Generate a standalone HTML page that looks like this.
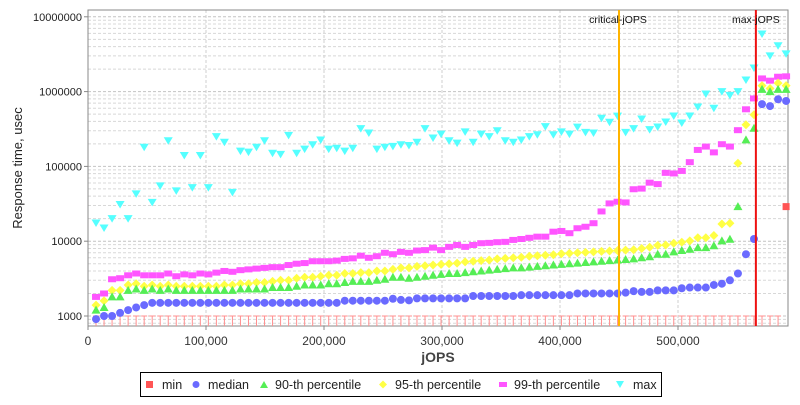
<!DOCTYPE html>
<html><head><meta charset="utf-8"><style>
body{margin:0;background:#fff;width:800px;height:400px;overflow:hidden;font-family:"Liberation Sans",sans-serif}
svg text{font-family:"Liberation Sans",sans-serif}
</style></head><body>
<svg id="chart" width="800" height="400" xmlns="http://www.w3.org/2000/svg">
<g id="grid"></g>
<g id="axes"></g>
<g id="marks"></g>
<text x="438" y="362" text-anchor="middle" font-size="14" font-weight="bold" fill="#444">jOPS</text>
<text transform="translate(22,168) rotate(-90)" text-anchor="middle" font-size="13" fill="#222">Response time, usec</text>
<g>
<rect x="140.5" y="372.5" width="521" height="24" fill="#fff" stroke="#000"/>
<rect x="146" y="381" width="7" height="7" fill="#ff5555"/>
<text x="162" y="389" font-size="12.5" fill="#222">min</text>
<circle cx="196" cy="384.5" r="3.5" fill="#6a6aff"/>
<text x="208" y="389" font-size="12.5" fill="#222">median</text>
<path d="M264,381 L268,388 L260,388Z" fill="#55ee55"/>
<text x="275" y="389" font-size="12.5" fill="#222">90-th percentile</text>
<path d="M383,380.5 L387,384.5 L383,388.5 L379,384.5Z" fill="#ffff44"/>
<text x="395" y="389" font-size="12.5" fill="#222">95-th percentile</text>
<rect x="499" y="382" width="8" height="5" fill="#ff55ff"/>
<text x="514" y="389" font-size="12.5" fill="#222">99-th percentile</text>
<path d="M616,381 L624,381 L620,388Z" fill="#55ffff"/>
<text x="633" y="389" font-size="12.5" fill="#222">max</text>
</g>
</svg>
<script>
const STEP = 6800;
const medianVals = [910,1000,1000,1100,1200,1300,1400,1500,1500,1500,1500,1500,1500,1500,1500,1500,1500,1500,1500,1500,1500,1500,1500,1500,1500,1500,1500,1500,1500,1500,1500,1600,1600,1600,1600,1600,1600,1700,1640,1620,1720,1720,1720,1720,1720,1720,1720,1850,1850,1850,1850,1850,1850,1900,1900,1900,1900,1900,1900,1900,2000,2000,2000,2000,2000,2000,2050,2150,2100,2100,2200,2200,2200,2350,2400,2400,2400,2600,2700,3000,3700,6700,10700,680000,640000,790000,750000];
const p90Vals = [1200,1300,1800,1800,2200,2300,2200,2300,2200,2300,2200,2200,2200,2200,2200,2200,2200,2200,2300,2300,2300,2300,2400,2400,2400,2500,2600,2600,2600,2700,2700,2800,2900,2900,2900,3000,3100,3300,3300,3200,3300,3400,3500,3600,3700,3700,3800,3900,4000,4100,4200,4300,4400,4400,4500,4600,4700,4800,4900,5000,5100,5200,5300,5400,5500,5600,5700,5800,6000,6200,6700,6700,7200,7500,7800,8200,8200,8700,10100,10600,29000,226000,324000,1070000,1000000,1070000,1070000];
const p95Vals = [1400,1600,2200,2200,2600,2700,2500,2600,2500,2600,2500,2500,2500,2500,2500,2500,2600,2600,2700,2700,2800,2800,2900,3000,3000,3200,3300,3300,3400,3500,3500,3700,3700,3800,3800,4000,4000,4200,4400,4400,4600,4700,4800,4900,5000,5100,5300,5400,5500,5600,5800,5900,6000,6100,6300,6400,6500,6600,6800,6900,7000,7100,7200,7300,7400,7500,7600,7700,8000,8300,8800,8900,9400,9700,10100,11100,11100,11900,17000,17400,110000,360000,490000,1200000,1100000,1300000,1200000];
const p99Vals = [1800,2000,3100,3200,3500,3700,3500,3500,3500,3700,3400,3600,3500,3700,3600,3800,4000,3900,4100,4200,4300,4400,4500,4500,4800,5000,5100,5400,5400,5400,5500,5800,5900,6400,6000,6300,7000,6700,7200,7000,7500,7600,8200,7600,8400,8900,8400,8900,9400,9500,9700,9800,10400,10700,11100,11500,11500,13400,13700,12800,14900,15600,17400,25000,32000,33700,33000,49500,50500,60600,58000,82000,80500,87000,114000,166000,184000,154000,198000,184000,305000,580000,810000,1500000,1400000,1580000,1600000];
const maxVals = [17500,15000,20000,31000,20000,43000,180000,33000,55000,220000,47000,140000,52000,140000,52000,250000,210000,45000,160000,155000,180000,220000,150000,145000,260000,150000,170000,195000,225000,170000,175000,160000,175000,320000,280000,170000,180000,185000,195000,190000,210000,320000,240000,270000,220000,205000,290000,210000,270000,250000,300000,220000,210000,225000,250000,265000,340000,265000,290000,270000,335000,285000,280000,440000,390000,470000,285000,320000,430000,310000,336000,392000,472000,380000,472000,622000,930000,600000,1000000,890000,1000000,1430000,2070000,5900000,3000000,4100000,3200000];
const minVals = [500,500,500,500,500,500,500,500,500,500,500,500,500,500,500,500,500,500,500,500,500,500,500,500,500,500,500,500,500,500,500,500,500,500,500,500,500,500,500,500,500,500,500,500,500,500,500,500,500,500,500,500,500,500,500,500,500,500,500,500,500,500,500,500,500,500,500,500,500,500,500,500,500,500,500,500,500,500,500,500,500,500,500,500,500,500,29000];
const xTicks = [0,100000,200000,300000,400000,500000];
const xTickLabels = ["0","100,000","200,000","300,000","400,000","500,000"];
const yTicks = [1000,10000,100000,1000000,10000000];
const yTickLabels = ["1000","10000","100000","1000000","10000000"];
const criticalJops = 450000;
const maxJops = 566000;

const L=88,R=788,T=10,B=326;
const X=v=>L+v*(118/100000);
const Y=v=>316-74.8*Math.log10(v/1000);
const NS="http://www.w3.org/2000/svg";
function mk(parent,tag,attrs){const e=document.createElementNS(NS,tag);for(const k in attrs)e.setAttribute(k,attrs[k]);parent.appendChild(e);return e;}
const grid=document.getElementById('grid'),axes=document.getElementById('axes'),marks=document.getElementById('marks');
mk(grid,'rect',{x:L,y:T,width:R-L,height:B-T,fill:'#fff'});
for(let d=100;d<=10000000;d*=10){for(let m=1;m<10;m++){const v=d*m;const y=Y(v);if(y<T||y>B)continue;
 const ln=mk(grid,'line',{x1:L,x2:R,y1:y,y2:y,stroke:m===1?'#c4c4c4':'#d8d8d8','stroke-width':1,'stroke-dasharray':'3,2'});
 
 }}
xTicks.forEach((t,i)=>{const x=X(t);
 if(i>0){const g=mk(grid,'line',{x1:x,x2:x,y1:T,y2:B,stroke:'#cfcfcf','stroke-dasharray':'3,2'});
 
 }
 const tk=mk(axes,'line',{x1:x,x2:x,y1:B,y2:B+4,stroke:'#888'});
 
 
 const tx=mk(axes,'text',{x:x,y:345,'text-anchor':'middle','font-size':'12',fill:'#333'});tx.textContent=xTickLabels[i];
 
 });
yTicks.forEach((t,i)=>{const y=Y(t);
 const tk=mk(axes,'line',{x1:L-4,x2:L,y1:y,y2:y,stroke:'#888'});
 
 
 const tx=mk(axes,'text',{x:82,y:y+4,'text-anchor':'end','font-size':'11',fill:'#222'});tx.textContent=yTickLabels[i];
 
 });
mk(axes,'rect',{x:L,y:T,width:R-L,height:B-T,fill:'none',stroke:'#888'});

minVals.forEach((v,i)=>{const x=X((i+1)*STEP);
 if(Y(v)>B){const g=mk(marks,'path',{d:`M${x-3},${Y(1000)} L${x+3},${Y(1000)} M${x},${Y(1000)} L${x},${B}`,stroke:'#ff8f8f','stroke-width':1,fill:'none'});
  
  }
 else{const r=mk(marks,'rect',{x:x-3.5,y:Y(v)-3.5,width:7,height:7,fill:'#ff5555'});
  
  }});
function series(vals,name,draw){vals.forEach((v,i)=>{const x=X((i+1)*STEP),y=Y(v);if(x>R+4)return;const e=draw(x,y);
 
 });}
series(maxVals,'max-point',(x,y)=>mk(marks,'path',{d:`M${x-4.5},${y-3.5} L${x+4.5},${y-3.5} L${x},${y+4}Z`,fill:'#55ffff'}));
series(p99Vals,'p99-point',(x,y)=>mk(marks,'rect',{x:x-4,y:y-3,width:8,height:6,fill:'#ff55ff'}));
series(p95Vals,'p95-point',(x,y)=>mk(marks,'path',{d:`M${x},${y-4.5} L${x+4.5},${y} L${x},${y+4.5} L${x-4.5},${y}Z`,fill:'#ffff44'}));
series(p90Vals,'p90-point',(x,y)=>mk(marks,'path',{d:`M${x},${y-4.5} L${x+4.5},${y+3.5} L${x-4.5},${y+3.5}Z`,fill:'#55ee55'}));
series(medianVals,'median-point',(x,y)=>mk(marks,'circle',{cx:x,cy:y,r:4,fill:'#6a6aff'}));

const cx=X(criticalJops),mx=X(maxJops);
const c=mk(marks,'line',{x1:cx,x2:cx,y1:T,y2:B,stroke:'#ffb400','stroke-width':2});


const ct=mk(marks,'text',{x:cx-1,y:23,'text-anchor':'middle','font-size':'10.5',fill:'#111','font-family':'Liberation Mono, monospace'});ct.textContent='critical-jOPS';


const m=mk(marks,'line',{x1:mx,x2:mx,y1:T,y2:B,stroke:'#ee1111','stroke-width':2});


const mt=mk(marks,'text',{x:mx,y:23,'text-anchor':'middle','font-size':'10.5',fill:'#111','font-family':'Liberation Mono, monospace'});mt.textContent='max-jOPS';


</script>
</body></html>
